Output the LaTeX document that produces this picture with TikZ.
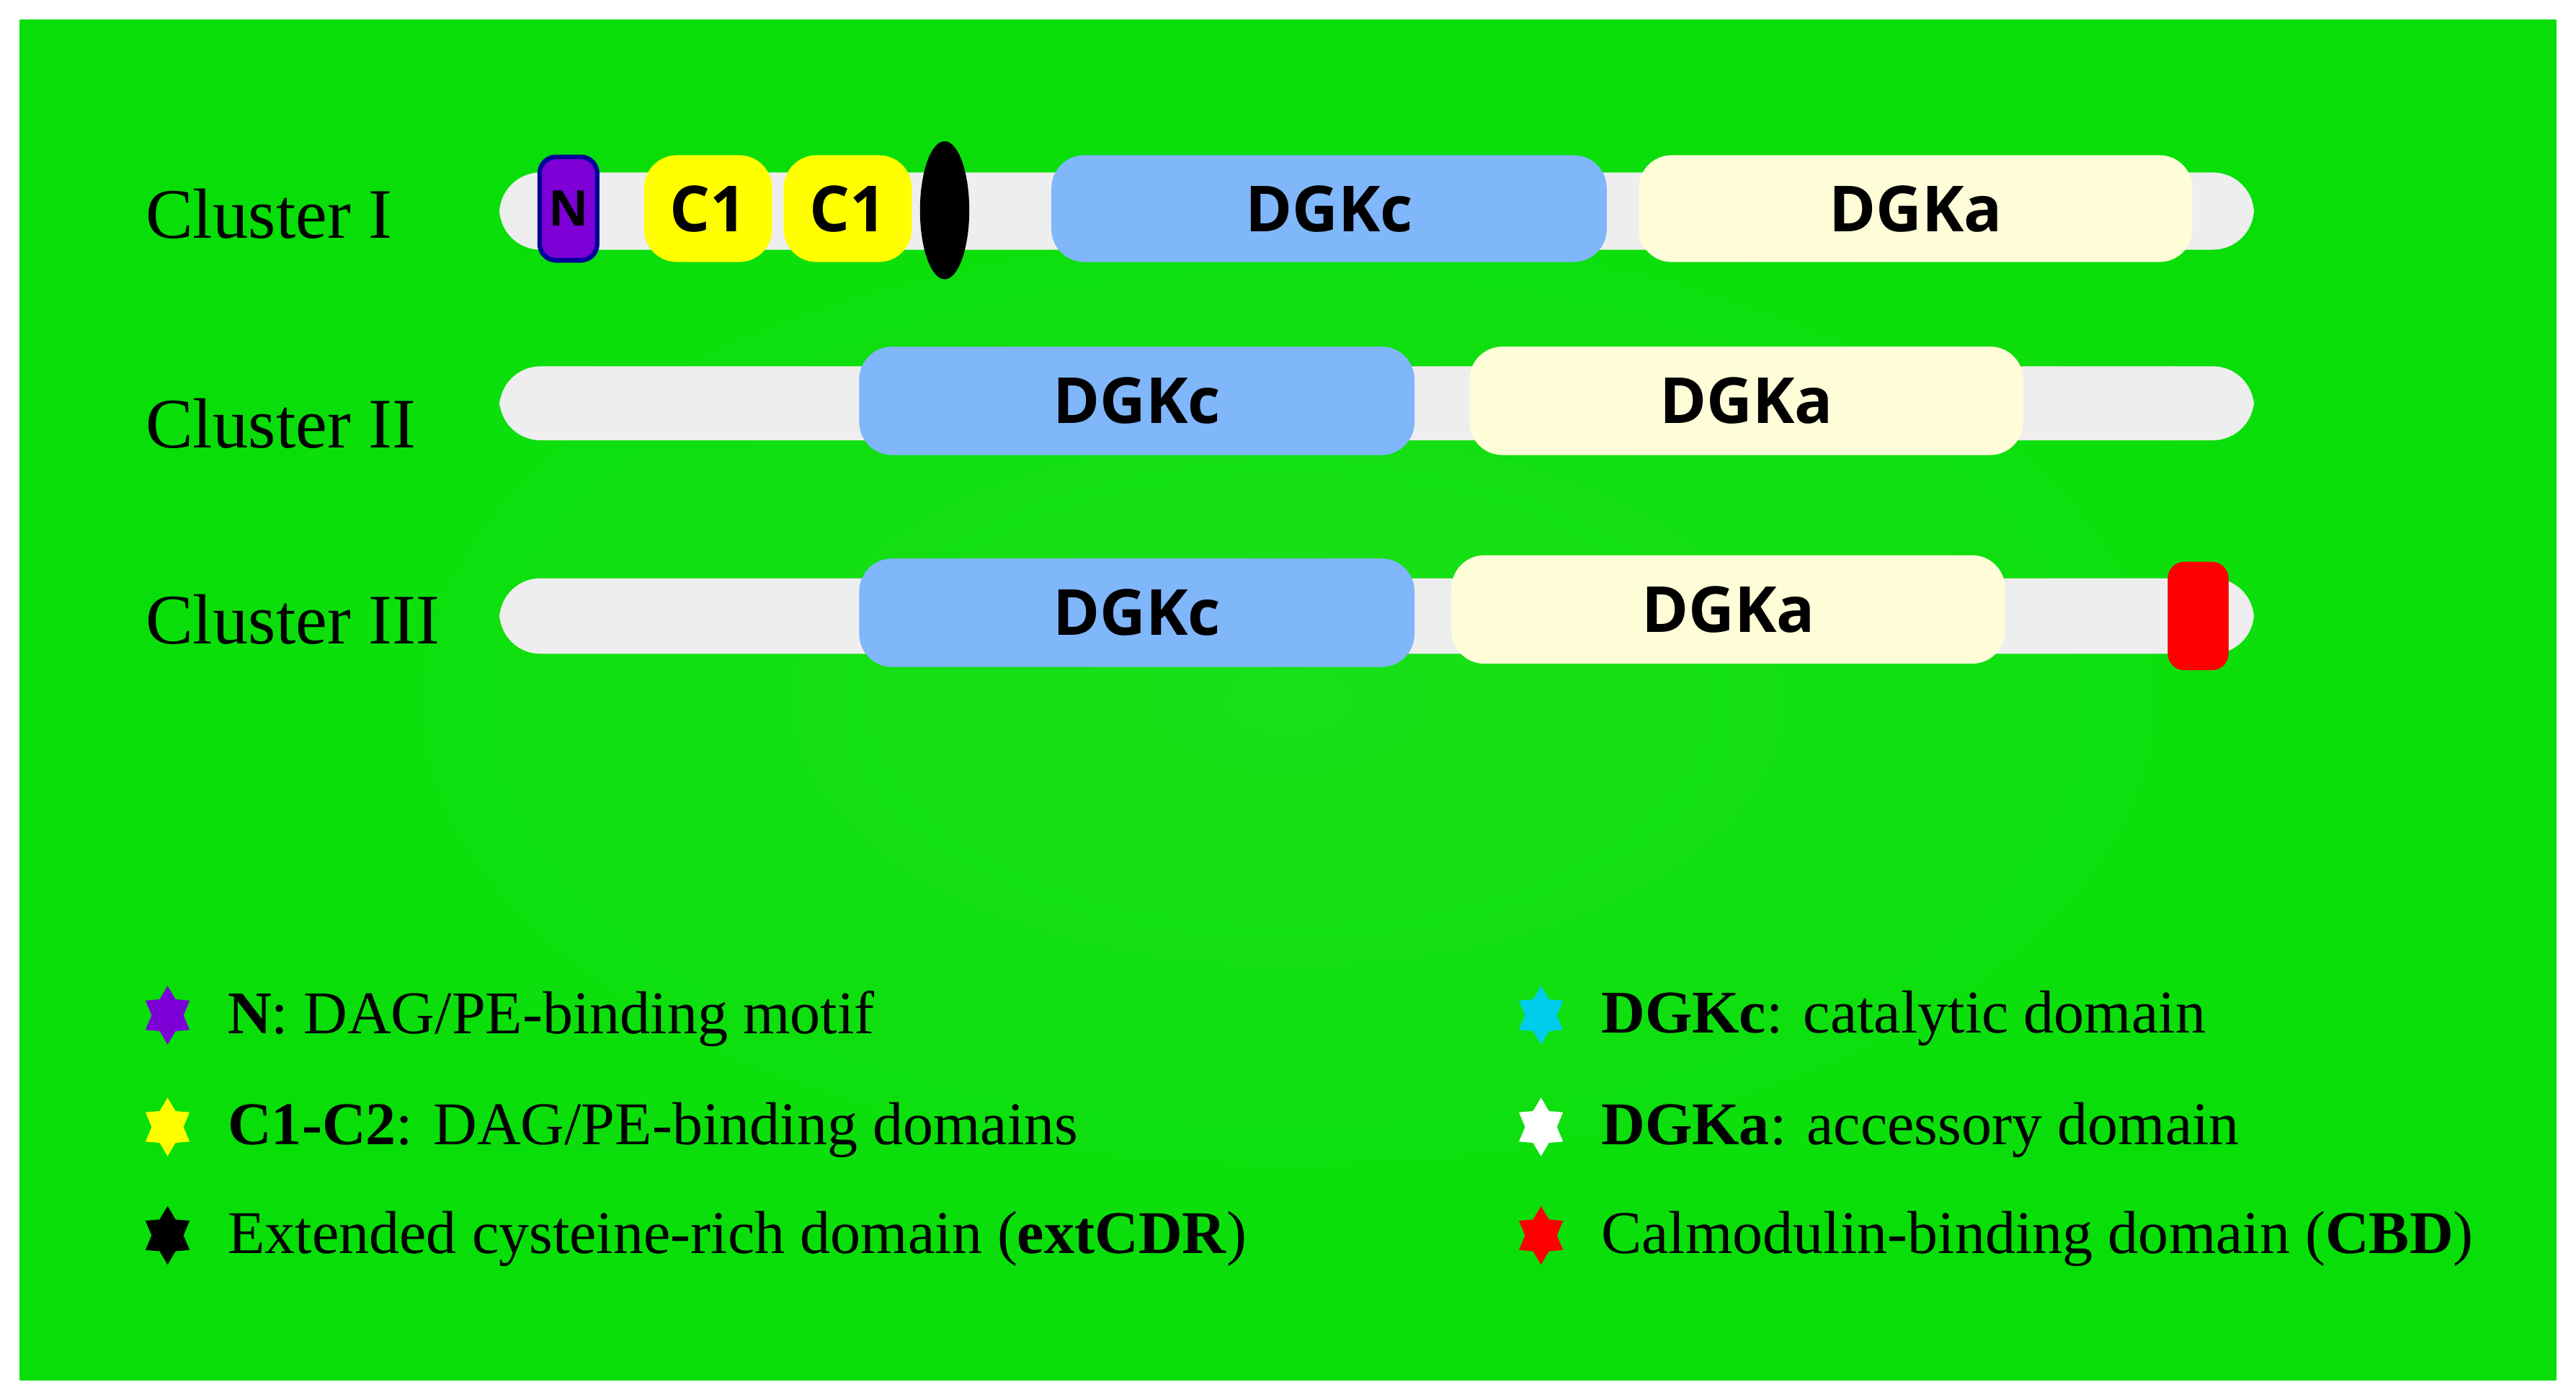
\documentclass[tikz,border=0pt]{standalone}
\usepackage{fontspec}
\setmainfont{Liberation Serif}
\newfontfamily\dsans{Open Sans}
\usetikzlibrary{shapes.geometric}
\definecolor{bg}{RGB}{8,222,8}
\definecolor{bar}{RGB}{238,238,238}
\definecolor{dc}{RGB}{128,182,250}
\definecolor{da}{RGB}{255,252,216}
\definecolor{np}{RGB}{125,0,215}
\definecolor{yl}{RGB}{255,255,0}
\definecolor{cy}{RGB}{0,205,235}
\begin{document}
\begin{tikzpicture}[x=0.1mm,y=-0.1mm,
  bar/.style={fill=bar,rounded corners=2.5mm},
  dom/.style={rounded corners=2mm,inner sep=0pt,font=\dsans\bfseries\fontsize{11}{13}\selectfont},
  lab/.style={anchor=west,inner sep=0pt,font=\fontsize{12.3}{15}\selectfont},
  leg/.style={anchor=west,inner sep=0pt,font=\fontsize{10.5}{12}\selectfont},
  st/.style={star,star points=6,star point ratio=1.6,minimum size=3.1mm,inner sep=0pt,yscale=1.15}]
\useasboundingbox (0,0) rectangle (1568,852);
\fill[white] (0,0) rectangle (1568,852);
\shade[inner color=bg!93!white,outer color=bg] (12,12) rectangle (1556,840);
% row 1
\node[lab] (l1) at (88,130) {Cluster I};
\fill[bar] (304,105) rectangle (1372,152);
\node[dom,fill=np,draw=blue!60!black,thick,minimum width=3.5mm,minimum height=6.3mm,rounded corners=1mm,font=\dsans\bfseries\fontsize{8.5}{10}\selectfont] (n) at (346,127) {N};
\node[dom,fill=yl,minimum width=7.8mm,minimum height=6.5mm] (c1a) at (431,127) {C1};
\node[dom,fill=yl,minimum width=7.8mm,minimum height=6.5mm] (c1b) at (516,127) {C1};
\node[ellipse,fill=black,minimum width=3mm,minimum height=8.4mm,inner sep=0pt] (cdr) at (575,128) {};
\node[dom,fill=dc,minimum width=33.8mm,minimum height=6.5mm] (dc1) at (809,127) {DGKc};
\node[dom,fill=da,minimum width=33.7mm,minimum height=6.5mm] (da1) at (1166,127) {DGKa};
% row 2
\node[lab] (l2) at (88,258) {Cluster II};
\fill[bar] (304,223) rectangle (1372,268);
\node[dom,fill=dc,minimum width=33.8mm,minimum height=6.6mm] (dc2) at (692,244) {DGKc};
\node[dom,fill=da,minimum width=33.7mm,minimum height=6.6mm] (da2) at (1063,244) {DGKa};
% row 3
\node[lab] (l3) at (88,377) {Cluster III};
\fill[bar] (304,352) rectangle (1372,398);
\node[dom,fill=dc,minimum width=33.8mm,minimum height=6.6mm] (dc3) at (692,373) {DGKc};
\node[dom,fill=da,minimum width=33.7mm,minimum height=6.6mm] (da3) at (1052,371) {DGKa};
\node[fill=red,rounded corners=1mm,minimum width=3.7mm,minimum height=6.6mm,inner sep=0pt] (cbd) at (1338,375) {};
% legend
\node[st,fill=np] (s1) at (102,618) {};
\node[leg] (t1) at (138,620) {\textbf{N}: DAG/PE-binding motif};
\node[st,fill=yl] (s2) at (102,686) {};
\node[leg] (t2) at (138,688) {\textbf{C1-C2}: DAG/PE-binding domains};
\node[st,fill=black] (s3) at (102,752) {};
\node[leg] (t3) at (138,754) {Extended cysteine-rich domain (\textbf{extCDR})};
\node[st,fill=cy] (s4) at (938,618) {};
\node[leg] (t4) at (974,620) {\textbf{DGKc}: catalytic domain};
\node[st,fill=white] (s5) at (938,686) {};
\node[leg] (t5) at (974,688) {\textbf{DGKa}: accessory domain};
\node[st,fill=red] (s6) at (938,752) {};
\node[leg] (t6) at (974,754) {Calmodulin-binding domain (\textbf{CBD})};
\end{tikzpicture}
\end{document}
